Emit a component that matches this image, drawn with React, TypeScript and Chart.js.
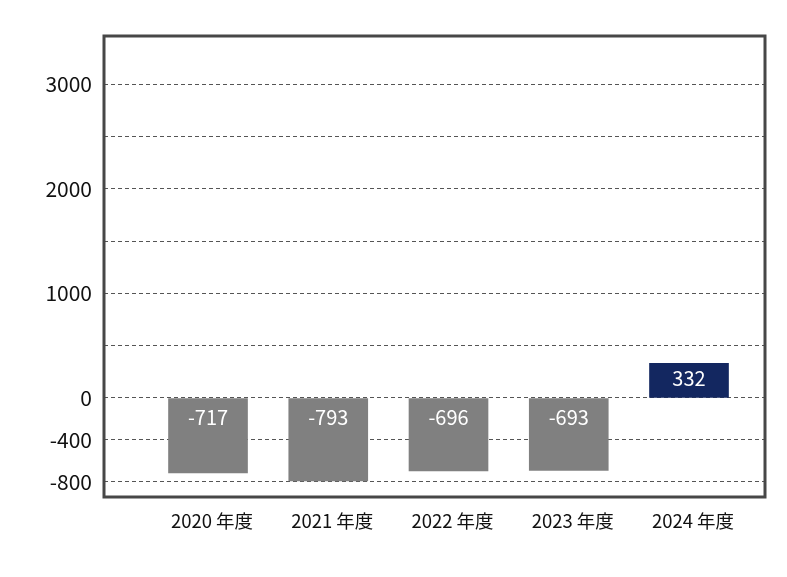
import React, { useEffect, useRef } from "react";
import { Chart, registerables } from "chart.js";

Chart.register(...registerables);

const categories = ["2020 年度", "2021 年度", "2022 年度", "2023 年度", "2024 年度"];
const values = [-717, -793, -696, -693, 332];
const yTickValues = [-800, -400, 0, 500, 1000, 1500, 2000, 2500, 3000];
const yLabeledTicks = [-800, -400, 0, 1000, 2000, 3000];

const FONT = "'Noto Sans CJK JP', 'Noto Sans', sans-serif";

const frameAndLabels = {
  id: "frameAndLabels",
  afterDatasetsDraw(chart: any) {
    const { ctx } = chart;
    const yScale = chart.scales.y;
    const zero = yScale.getPixelForValue(0);
    const meta = chart.getDatasetMeta(0);
    ctx.save();
    ctx.fillStyle = "#ffffff";
    ctx.font = `20px ${FONT}`;
    ctx.textAlign = "center";
    ctx.textBaseline = "middle";
    meta.data.forEach((el: any, i: number) => {
      const v = values[i];
      const y = v >= 0 ? zero - 20 : zero + 19;
      ctx.fillText(String(v), el.x, y);
    });
    ctx.restore();
  },
  afterDraw(chart: any) {
    const { ctx, chartArea } = chart;
    ctx.save();
    ctx.strokeStyle = "#474747";
    ctx.lineWidth = 3;
    ctx.strokeRect(chartArea.left, chartArea.top, chartArea.right - chartArea.left, chartArea.bottom - chartArea.top);
    ctx.restore();
  },
};

export default function App() {
  const ref = useRef<HTMLCanvasElement>(null);
  useEffect(() => {
    if (!ref.current) return;
    const chart = new Chart(ref.current, {
      type: "bar",
      data: {
        datasets: [
          {
            data: values.map((v, i) => ({ x: i, y: v })),
            backgroundColor: values.map((v) => (v >= 0 ? "#132760" : "#808080")),
            barThickness: 79,
          },
        ],
      },
      plugins: [frameAndLabels],
      options: {
        animation: false,
        responsive: false,
        maintainAspectRatio: false,
        layout: { padding: { top: 36, right: 22, left: 0, bottom: 0 } },
        plugins: { legend: { display: false }, tooltip: { enabled: false } },
        scales: {
          x: {
            type: "linear",
            offset: false,
            min: -0.865,
            max: 4.632,
            grid: { display: false, drawTicks: false, offset: false },
            border: { display: false },
            afterBuildTicks: (scale: any) => {
              scale.ticks = categories.map((_, i) => ({ value: i }));
            },
            afterFit: (scale: any) => {
              scale.height = 80;
            },
            ticks: {
              autoSkip: false,
              maxRotation: 0,
              padding: 13,
              labelOffset: 4,
              color: "#111",
              font: { family: FONT, size: 18.5 },
              callback: (v: any) => categories[v] ?? "",
            },
          },
          y: {
            type: "linear",
            min: -946,
            max: 3459,
            grid: { color: "#555", lineWidth: 1, drawTicks: false },
            border: { display: false, dash: [4, 3] },
            afterBuildTicks: (scale: any) => {
              scale.ticks = yTickValues.map((v) => ({ value: v }));
            },
            afterFit: (scale: any) => {
              scale.width = 104;
            },
            ticks: {
              autoSkip: false,
              padding: 12,
              color: "#111",
              font: { family: FONT, size: 21 },
              callback: (v: any) => (yLabeledTicks.includes(v) ? String(v) : ""),
            },
          },
        },
      },
    });
    return () => chart.destroy();
  }, []);
  return (
    <div style={{ position: "fixed", left: 0, top: 0, width: 787, height: 577, background: "#fff" }}>
      <canvas ref={ref} width={787} height={577} />
    </div>
  );
}
